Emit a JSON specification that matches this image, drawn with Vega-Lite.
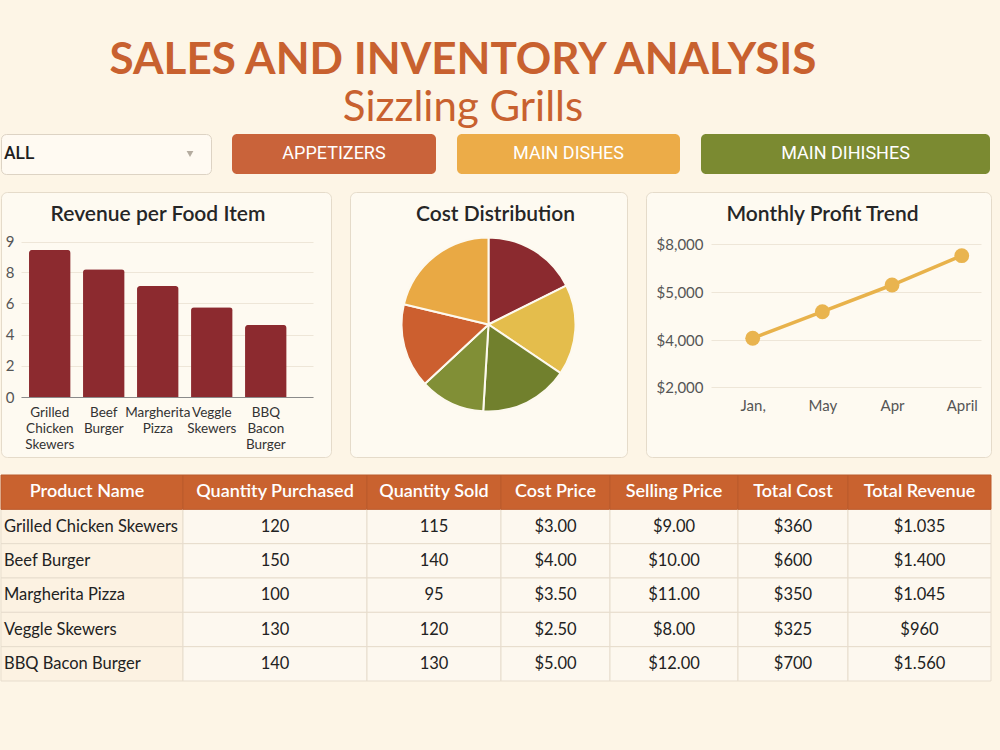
{
  "$schema": "https://vega.github.io/schema/vega-lite/v6.json",
  "background": "#fdf5e6",
  "padding": {"top": 38, "left": 0, "right": 10, "bottom": 70},
  "title": {
    "text": "SALES AND INVENTORY ANALYSIS",
    "subtitle": "Sizzling Grills",
    "font": "Lato", "fontSize": 44, "fontWeight": "bold", "color": "#c8612f",
    "subtitleFont": "Lato", "subtitleFontSize": 42, "subtitleColor": "#c8612f", "subtitleFontWeight": "normal",
    "subtitlePadding": 5,
    "anchor": "middle", "dx": -33, "offset": 5
  },
  "config": {
    "font": "Lato",
    "view": {"stroke": null},
    "axis": {"labelFont": "Lato", "titleFont": "Lato"}
  },
  "datasets": {
    "table": [
      {"product": "Grilled Chicken Skewers", "qty_purchased": 120, "qty_sold": 115, "cost_price": 3.00, "selling_price": 9.00, "total_cost": 360, "total_revenue": 1035},
      {"product": "Beef Burger", "qty_purchased": 150, "qty_sold": 140, "cost_price": 4.00, "selling_price": 10.00, "total_cost": 600, "total_revenue": 1400},
      {"product": "Margherita Pizza", "qty_purchased": 100, "qty_sold": 95, "cost_price": 3.50, "selling_price": 11.00, "total_cost": 350, "total_revenue": 1045},
      {"product": "Veggle Skewers", "qty_purchased": 130, "qty_sold": 120, "cost_price": 2.50, "selling_price": 8.00, "total_cost": 325, "total_revenue": 960},
      {"product": "BBQ Bacon Burger", "qty_purchased": 140, "qty_sold": 130, "cost_price": 5.00, "selling_price": 12.00, "total_cost": 700, "total_revenue": 1560}
    ]
  },
  "spacing": 16,
  "vconcat": [
    {
      "bounds": "flush",
      "spacing": 21,
      "hconcat": [
        {
          "width": 210, "height": 40,
          "view": {"fill": "#fffaf2", "stroke": "#ddd3c4", "cornerRadius": 5},
          "data": {"values": [{"label": "ALL"}]},
          "layer": [
            {"mark": {"type": "text", "align": "left", "dx": 3, "fontSize": 17.5, "fontWeight": 500, "color": "#1f1f1f", "font": "Roboto"},
             "encoding": {"x": {"datum": 0, "type": "quantitative", "scale": {"domain": [0, 1]}, "axis": null}, "text": {"field": "label"}}},
            {"mark": {"type": "point", "shape": "triangle-down", "filled": true, "size": 45, "color": "#b5aca0", "opacity": 1},
             "encoding": {"x": {"datum": 0.9, "type": "quantitative", "scale": {"domain": [0, 1]}, "axis": null}}}
          ]
        },
        {
          "width": 204, "height": 40,
          "view": {"fill": "#c9633a", "stroke": null, "cornerRadius": 5},
          "data": {"values": [{"label": "APPETIZERS"}]},
          "mark": {"type": "text", "fontSize": 18, "color": "#ffffff", "font": "Roboto"},
          "encoding": {"text": {"field": "label"}}
        },
        {
          "width": 223, "height": 40,
          "view": {"fill": "#ecac48", "stroke": null, "cornerRadius": 5},
          "data": {"values": [{"label": "MAIN DISHES"}]},
          "mark": {"type": "text", "fontSize": 18, "color": "#ffffff", "font": "Roboto"},
          "encoding": {"text": {"field": "label"}}
        },
        {
          "width": 289, "height": 40,
          "view": {"fill": "#7b8a31", "stroke": null, "cornerRadius": 5},
          "data": {"values": [{"label": "MAIN DIHISHES"}]},
          "mark": {"type": "text", "fontSize": 18, "color": "#ffffff", "font": "Roboto"},
          "encoding": {"text": {"field": "label"}}
        }
      ]
    },
    {
      "bounds": "flush",
      "spacing": 19,
      "hconcat": [
        {
          "width": 330, "height": 265,
          "view": {"fill": "#fefaf1", "stroke": "#e5dbca", "cornerRadius": 6},
          "title": {"text": "Revenue per Food Item", "fontSize": 21, "fontWeight": 600, "color": "#262626", "offset": -50, "baseline": "alphabetic", "dx": -8, "anchor": "middle", "frame": "group"},
          "data": {"values": [
            {"item": "Grilled Chicken Skewers", "revenue": 8.73},
            {"item": "Beef Burger", "revenue": 8.1},
            {"item": "Margherita Pizza", "revenue": 7.12},
            {"item": "Veggle Skewers", "revenue": 5.75},
            {"item": "BBQ Bacon Burger", "revenue": 4.62}
          ]},
          "mark": {"type": "bar", "color": "#8c2a2f", "cornerRadiusTopLeft": 3, "cornerRadiusTopRight": 3},
          "encoding": {
            "x": {"field": "item", "type": "nominal", "sort": null,
                  "scale": {"range": [20, 312], "paddingInner": 0.23, "paddingOuter": 0.3185, "align": 0.233},
                  "axis": {"title": null, "orient": "bottom", "offset": -60, "labelExpr": "split(datum.label, ' ')", "labelAngle": 0, "labelPadding": 8, "labelLineHeight": 16, "labelFontSize": 13.5, "labelColor": "#333333", "ticks": false, "tickSize": 0, "domain": true, "domainColor": "#8a8a8a", "domainWidth": 1, "grid": false, "labelOverlap": false, "labelBound": false, "labelLimit": 200}},
            "y": {"field": "revenue", "type": "quantitative",
                  "scale": {"domain": [0, 8, 9], "range": [205, 80.3, 49.7], "zero": false, "nice": false},
                  "axis": {"title": null, "values": [0, 2, 4, 6, 8, 9], "offset": -20, "labelPadding": 7, "ticks": false, "tickSize": 0, "domain": false, "grid": true, "gridColor": "#eee6d8", "labelFontSize": 15, "labelColor": "#555555"}}
          }
        },
        {
          "width": 277, "height": 265,
          "view": {"fill": "#fefaf1", "stroke": "#e5dbca", "cornerRadius": 6},
          "title": {"text": "Cost Distribution", "fontSize": 21, "fontWeight": 600, "color": "#262626", "offset": -50, "baseline": "alphabetic", "dx": 7, "anchor": "middle", "frame": "group"},
          "data": {"values": [
            {"segment": "Category 1", "cost": 63.4},
            {"segment": "Category 2", "cost": 60.6},
            {"segment": "Category 3", "cost": 59.5},
            {"segment": "Category 4", "cost": 43.5},
            {"segment": "Category 5", "cost": 56.4},
            {"segment": "Category 6", "cost": 76.6}
          ]},
          "mark": {"type": "arc", "outerRadius": 87, "stroke": "#fdf9ef", "strokeWidth": 2},
          "encoding": {
            "theta": {"field": "cost", "type": "quantitative", "stack": true},
            "color": {"field": "segment", "type": "nominal", "legend": null,
                      "scale": {"domain": ["Category 1", "Category 2", "Category 3", "Category 4", "Category 5", "Category 6"],
                                "range": ["#8b2a2f", "#e4bd4c", "#71802d", "#818f36", "#cc5f2f", "#e9a944"]}},
            "order": {"field": "segment"}
          }
        },
        {
          "width": 345, "height": 265,
          "view": {"fill": "#fefaf1", "stroke": "#e5dbca", "cornerRadius": 6},
          "title": {"text": "Monthly Profit Trend", "fontSize": 21, "fontWeight": 600, "color": "#262626", "offset": -50, "baseline": "alphabetic", "dx": 4, "anchor": "middle", "frame": "group"},
          "data": {"values": [
            {"month": "Jan,", "profit": 4036},
            {"month": "May", "profit": 4593},
            {"month": "Apr", "profit": 5453},
            {"month": "April", "profit": 7273}
          ]},
          "encoding": {
            "x": {"field": "month", "type": "ordinal", "sort": null,
                  "scale": {"type": "point", "range": [65, 335], "padding": 0.4375, "align": 0.684},
                  "axis": {"title": null, "orient": "bottom", "offset": -70, "labelAngle": 0, "labelPadding": 11, "labelFontSize": 15, "labelColor": "#555555", "ticks": false, "tickSize": 0, "domain": false, "grid": false, "labelBound": false}},
            "y": {"field": "profit", "type": "quantitative",
                  "scale": {"domain": [2000, 4000, 5000, 8000], "range": [195, 148, 100.3, 52], "zero": false, "nice": false},
                  "axis": {"title": null, "values": [2000, 4000, 5000, 8000], "format": "$,.0f", "offset": -65, "labelPadding": 8, "ticks": false, "tickSize": 0, "domain": false, "grid": true, "gridColor": "#eee6d8", "labelFontSize": 15, "labelColor": "#555555"}}
          },
          "layer": [
            {"mark": {"type": "line", "color": "#e8b24b", "strokeWidth": 3.5}},
            {"mark": {"type": "point", "filled": true, "opacity": 1, "size": 220, "color": "#e9b44f"}}
          ]
        }
      ]
    },
    {
      "bounds": "flush",
      "spacing": 0,
      "hconcat": [
        {
          "width": 182, "height": 206,
          "layer": [
            {"data": {"name": "table"},
             "mark": {"type": "rect", "fill": "#fcf2e2", "stroke": "#e7ddcd", "strokeWidth": 1},
             "encoding": {"y": {"field": "product", "type": "nominal", "axis": null, "scale": {"domain": ["Header", "Grilled Chicken Skewers", "Beef Burger", "Margherita Pizza", "Veggle Skewers", "BBQ Bacon Burger"], "paddingInner": 0, "paddingOuter": 0}},
                          "x": {"datum": 0, "type": "quantitative", "scale": {"domain": [0, 1]}, "axis": null}, "x2": {"datum": 1}}},
            {"data": {"name": "table"},
             "mark": {"type": "text", "align": "left", "dx": 3, "fontSize": 16.5, "color": "#222222"},
             "encoding": {"y": {"field": "product", "type": "nominal"}, "x": {"datum": 0, "type": "quantitative"}, "text": {"field": "product"}}},
            {"data": {"values": [{"row": "Header", "label": "Product Name"}]},
             "mark": {"type": "rect", "fill": "#c9622f", "stroke": "#bb5a2c", "strokeWidth": 1},
             "encoding": {"y": {"field": "row", "type": "nominal"}, "x": {"datum": 0, "type": "quantitative"}, "x2": {"datum": 1}}},
            {"data": {"values": [{"row": "Header", "label": "Product Name"}]},
             "mark": {"type": "text", "fontSize": 18, "fontWeight": 600, "color": "#ffffff", "dx": -5},
             "encoding": {"y": {"field": "row", "type": "nominal"}, "x": {"datum": 0.5, "type": "quantitative"}, "text": {"field": "label"}}}
          ]
        },
        {
          "width": 184, "height": 206,
          "layer": [
            {"data": {"name": "table"},
             "mark": {"type": "rect", "fill": "#fdf8ef", "stroke": "#e7ddcd", "strokeWidth": 1},
             "encoding": {"y": {"field": "product", "type": "nominal", "axis": null, "scale": {"domain": ["Header", "Grilled Chicken Skewers", "Beef Burger", "Margherita Pizza", "Veggle Skewers", "BBQ Bacon Burger"], "paddingInner": 0, "paddingOuter": 0}}}},
            {"data": {"name": "table"},
             "mark": {"type": "text", "fontSize": 16.5, "color": "#222222"},
             "encoding": {"y": {"field": "product", "type": "nominal"}, "text": {"field": "qty_purchased", "format": "d"}}},
            {"data": {"values": [{"row": "Header", "label": "Quantity Purchased"}]},
             "mark": {"type": "rect", "fill": "#c9622f", "stroke": "#bb5a2c", "strokeWidth": 1},
             "encoding": {"y": {"field": "row", "type": "nominal"}}},
            {"data": {"values": [{"row": "Header", "label": "Quantity Purchased"}]},
             "mark": {"type": "text", "fontSize": 18, "fontWeight": 600, "color": "#ffffff"},
             "encoding": {"y": {"field": "row", "type": "nominal"}, "text": {"field": "label"}}}
          ]
        },
        {
          "width": 134, "height": 206,
          "layer": [
            {"data": {"name": "table"},
             "mark": {"type": "rect", "fill": "#fdf8ef", "stroke": "#e7ddcd", "strokeWidth": 1},
             "encoding": {"y": {"field": "product", "type": "nominal", "axis": null, "scale": {"domain": ["Header", "Grilled Chicken Skewers", "Beef Burger", "Margherita Pizza", "Veggle Skewers", "BBQ Bacon Burger"], "paddingInner": 0, "paddingOuter": 0}}}},
            {"data": {"name": "table"},
             "mark": {"type": "text", "fontSize": 16.5, "color": "#222222"},
             "encoding": {"y": {"field": "product", "type": "nominal"}, "text": {"field": "qty_sold", "format": "d"}}},
            {"data": {"values": [{"row": "Header", "label": "Quantity Sold"}]},
             "mark": {"type": "rect", "fill": "#c9622f", "stroke": "#bb5a2c", "strokeWidth": 1},
             "encoding": {"y": {"field": "row", "type": "nominal"}}},
            {"data": {"values": [{"row": "Header", "label": "Quantity Sold"}]},
             "mark": {"type": "text", "fontSize": 18, "fontWeight": 600, "color": "#ffffff"},
             "encoding": {"y": {"field": "row", "type": "nominal"}, "text": {"field": "label"}}}
          ]
        },
        {
          "width": 109, "height": 206,
          "layer": [
            {"data": {"name": "table"},
             "mark": {"type": "rect", "fill": "#fdf8ef", "stroke": "#e7ddcd", "strokeWidth": 1},
             "encoding": {"y": {"field": "product", "type": "nominal", "axis": null, "scale": {"domain": ["Header", "Grilled Chicken Skewers", "Beef Burger", "Margherita Pizza", "Veggle Skewers", "BBQ Bacon Burger"], "paddingInner": 0, "paddingOuter": 0}}}},
            {"data": {"name": "table"},
             "mark": {"type": "text", "fontSize": 16.5, "color": "#222222"},
             "encoding": {"y": {"field": "product", "type": "nominal"}, "text": {"field": "cost_price", "format": "$.2f"}}},
            {"data": {"values": [{"row": "Header", "label": "Cost Price"}]},
             "mark": {"type": "rect", "fill": "#c9622f", "stroke": "#bb5a2c", "strokeWidth": 1},
             "encoding": {"y": {"field": "row", "type": "nominal"}}},
            {"data": {"values": [{"row": "Header", "label": "Cost Price"}]},
             "mark": {"type": "text", "fontSize": 18, "fontWeight": 600, "color": "#ffffff"},
             "encoding": {"y": {"field": "row", "type": "nominal"}, "text": {"field": "label"}}}
          ]
        },
        {
          "width": 128, "height": 206,
          "layer": [
            {"data": {"name": "table"},
             "mark": {"type": "rect", "fill": "#fdf8ef", "stroke": "#e7ddcd", "strokeWidth": 1},
             "encoding": {"y": {"field": "product", "type": "nominal", "axis": null, "scale": {"domain": ["Header", "Grilled Chicken Skewers", "Beef Burger", "Margherita Pizza", "Veggle Skewers", "BBQ Bacon Burger"], "paddingInner": 0, "paddingOuter": 0}}}},
            {"data": {"name": "table"},
             "mark": {"type": "text", "fontSize": 16.5, "color": "#222222"},
             "encoding": {"y": {"field": "product", "type": "nominal"}, "text": {"field": "selling_price", "format": "$.2f"}}},
            {"data": {"values": [{"row": "Header", "label": "Selling Price"}]},
             "mark": {"type": "rect", "fill": "#c9622f", "stroke": "#bb5a2c", "strokeWidth": 1},
             "encoding": {"y": {"field": "row", "type": "nominal"}}},
            {"data": {"values": [{"row": "Header", "label": "Selling Price"}]},
             "mark": {"type": "text", "fontSize": 18, "fontWeight": 600, "color": "#ffffff"},
             "encoding": {"y": {"field": "row", "type": "nominal"}, "text": {"field": "label"}}}
          ]
        },
        {
          "width": 110, "height": 206,
          "layer": [
            {"data": {"name": "table"},
             "mark": {"type": "rect", "fill": "#fdf8ef", "stroke": "#e7ddcd", "strokeWidth": 1},
             "encoding": {"y": {"field": "product", "type": "nominal", "axis": null, "scale": {"domain": ["Header", "Grilled Chicken Skewers", "Beef Burger", "Margherita Pizza", "Veggle Skewers", "BBQ Bacon Burger"], "paddingInner": 0, "paddingOuter": 0}}}},
            {"data": {"name": "table"},
             "mark": {"type": "text", "fontSize": 16.5, "color": "#222222"},
             "encoding": {"y": {"field": "product", "type": "nominal"}, "text": {"field": "total_cost", "format": "$,.0f"}}},
            {"data": {"values": [{"row": "Header", "label": "Total Cost"}]},
             "mark": {"type": "rect", "fill": "#c9622f", "stroke": "#bb5a2c", "strokeWidth": 1},
             "encoding": {"y": {"field": "row", "type": "nominal"}}},
            {"data": {"values": [{"row": "Header", "label": "Total Cost"}]},
             "mark": {"type": "text", "fontSize": 18, "fontWeight": 600, "color": "#ffffff"},
             "encoding": {"y": {"field": "row", "type": "nominal"}, "text": {"field": "label"}}}
          ]
        },
        {
          "width": 143, "height": 206,
          "layer": [
            {"data": {"name": "table"},
             "mark": {"type": "rect", "fill": "#fdf8ef", "stroke": "#e7ddcd", "strokeWidth": 1},
             "encoding": {"y": {"field": "product", "type": "nominal", "axis": null, "scale": {"domain": ["Header", "Grilled Chicken Skewers", "Beef Burger", "Margherita Pizza", "Veggle Skewers", "BBQ Bacon Burger"], "paddingInner": 0, "paddingOuter": 0}}}},
            {"data": {"name": "table"},
             "mark": {"type": "text", "fontSize": 16.5, "color": "#222222", "text": {"expr": "'$' + replace(format(datum.total_revenue, ','), ',', '.')"}},
             "encoding": {"y": {"field": "product", "type": "nominal"}}},
            {"data": {"values": [{"row": "Header", "label": "Total Revenue"}]},
             "mark": {"type": "rect", "fill": "#c9622f", "stroke": "#bb5a2c", "strokeWidth": 1},
             "encoding": {"y": {"field": "row", "type": "nominal"}}},
            {"data": {"values": [{"row": "Header", "label": "Total Revenue"}]},
             "mark": {"type": "text", "fontSize": 18, "fontWeight": 600, "color": "#ffffff"},
             "encoding": {"y": {"field": "row", "type": "nominal"}, "text": {"field": "label"}}}
          ]
        }
      ]
    }
  ]
}
